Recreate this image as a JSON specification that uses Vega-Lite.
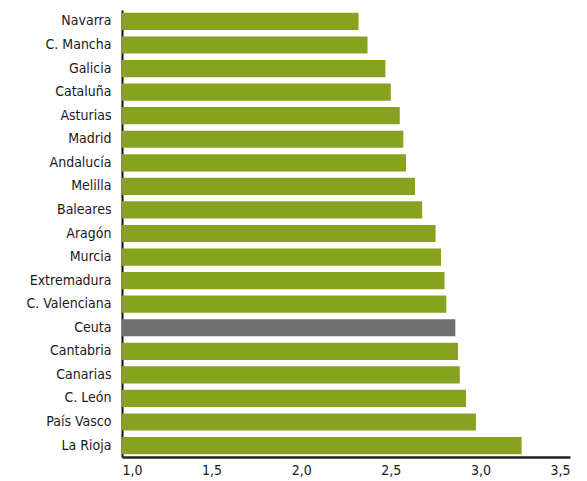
{
  "$schema": "https://vega.github.io/schema/vega-lite/v6.json",
  "autosize": {"type": "none"},
  "width": 448,
  "height": 447,
  "padding": {"left": 122, "top": 10, "right": 17, "bottom": 24},
  "background": "white",
  "data": {"values": [
    {"region": "Navarra", "value": 2.32, "group": "otro"},
    {"region": "C. Mancha", "value": 2.37, "group": "otro"},
    {"region": "Galicia", "value": 2.47, "group": "otro"},
    {"region": "Cataluña", "value": 2.50, "group": "otro"},
    {"region": "Asturias", "value": 2.55, "group": "otro"},
    {"region": "Madrid", "value": 2.57, "group": "otro"},
    {"region": "Andalucía", "value": 2.585, "group": "otro"},
    {"region": "Melilla", "value": 2.635, "group": "otro"},
    {"region": "Baleares", "value": 2.675, "group": "otro"},
    {"region": "Aragón", "value": 2.75, "group": "otro"},
    {"region": "Murcia", "value": 2.78, "group": "otro"},
    {"region": "Extremadura", "value": 2.80, "group": "otro"},
    {"region": "C. Valenciana", "value": 2.81, "group": "otro"},
    {"region": "Ceuta", "value": 2.86, "group": "ceuta"},
    {"region": "Cantabria", "value": 2.875, "group": "otro"},
    {"region": "Canarias", "value": 2.885, "group": "otro"},
    {"region": "C. León", "value": 2.92, "group": "otro"},
    {"region": "País Vasco", "value": 2.975, "group": "otro"},
    {"region": "La Rioja", "value": 3.23, "group": "otro"}
  ]},
  "mark": {"type": "bar"},
  "encoding": {
    "y": {
      "field": "region", "type": "nominal", "sort": null,
      "scale": {"paddingInner": 0.27, "paddingOuter": 0.12},
      "axis": {
        "title": null, "ticks": false, "labelPadding": 11,
        "labelFont": "DejaVu Sans Condensed", "labelFontSize": 14, "labelColor": "#1a1a1a",
        "domainColor": "#111", "domainWidth": 2, "grid": false
      }
    },
    "x": {
      "field": "value", "type": "quantitative",
      "scale": {"domain": [1, 3.5], "zero": false, "nice": false},
      "axis": {
        "title": null, "values": [1, 1.5, 2, 2.5, 3, 3.5],
        "labelExpr": "replace(format(datum.value, '.1f'), '.', ',')",
        "ticks": false, "grid": false, "labelPadding": 6,
        "labelFont": "DejaVu Sans Condensed", "labelFontSize": 14, "labelColor": "#1a1a1a",
        "domainColor": "#222", "domainWidth": 2.5
      }
    },
    "x2": {"datum": 1},
    "color": {
      "field": "group", "type": "nominal",
      "scale": {"domain": ["otro", "ceuta"], "range": ["#86a21f", "#717171"]},
      "legend": null
    }
  },
  "config": {"view": {"stroke": null}}
}
